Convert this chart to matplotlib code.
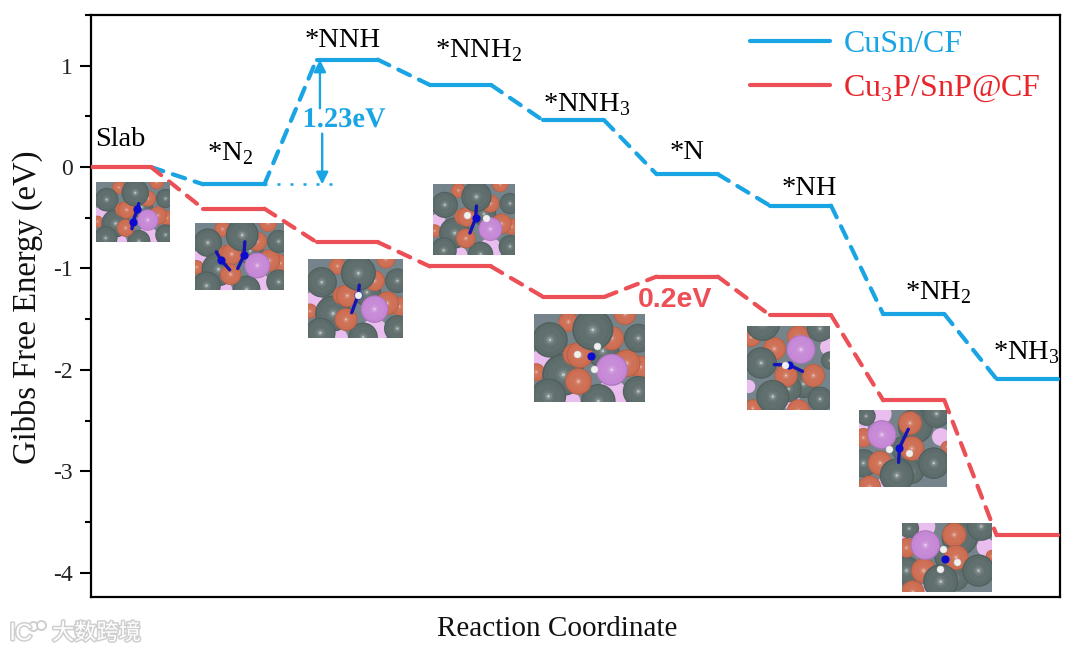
import numpy as np
import matplotlib
matplotlib.use('Agg')
import matplotlib.pyplot as plt
import matplotlib.patheffects as pe
from matplotlib.lines import Line2D
from matplotlib.patches import Circle, Rectangle
from matplotlib.ticker import MultipleLocator

plt.rcParams['font.family'] = ['Liberation Serif', 'DejaVu Sans']
plt.rcParams['mathtext.fontset'] = 'custom'
plt.rcParams['mathtext.rm'] = 'Liberation Serif'

W, H = 1080, 653

# energy levels (eV)
steps = ['Slab', '*N$_2$', '*NNH', '*NNH$_2$', '*NNH$_3$', '*N', '*NH', '*NH$_2$', '*NH$_3$']
cusn = [0, -0.17, 1.06, 0.81, 0.46, -0.07, -0.38, -1.45, -2.09]
cu3p = [0, -0.41, -0.74, -0.98, -1.28, -1.08, -1.46, -2.30, -3.63]
label_x = [0.0, 0.97, 1.96, 3.16, 4.11, 5.0, 6.08, 7.22, 7.99]
label_y = [0.27, 0.13, 1.25, 1.15, 0.62, 0.14, -0.21, -1.24, -1.83]

BLUE = '#19a4e4'
RED = '#ec5056'
LW = 3.0
half = 0.27

# atoms in the snapshots: x, y, radius as fractions of the snapshot width, top down
GREY, COPPER, PURPLE, PINK = '#5c6c6b', '#cc6d52', '#c587d6', '#e9bdee'
slab_a = [
    (PINK, .06, .52, .09), (PINK, .70, .92, .14), (PINK, .32, 1.0, .10),
    (COPPER, .82, .00, .10), (COPPER, .02, .66, .08), (COPPER, .31, .09, .09), (COPPER, .96, .60, .10),
    (GREY, .144, .294, .16), (GREY, .264, .69, .19), (GREY, .13, .935, .16), (GREY, .62, .42, .15),
    (COPPER, .70, .275, .11), (COPPER, .835, .56, .125), (COPPER, .36, .46, .10), (COPPER, .414, .464, .12),
    (GREY, .53, .18, .185), (GREY, .94, .275, .13), (GREY, .94, .88, .14), (GREY, .58, .99, .155),
    (COPPER, .40, .766, .12), (PURPLE, .70, .634, .145),
]
slab_b = [
    (PINK, .98, .25, .10), (PINK, .55, .92, .10), (PINK, .02, .72, .08),
    (COPPER, .05, .13, .12), (COPPER, .62, .13, .14), (COPPER, .33, .27, .14), (COPPER, .07, .98, .11),
    (GREY, .19, -.03, .21), (GREY, .88, .03, .16), (GREY, 1.0, .41, .11), (GREY, .68, .69, .17),
    (GREY, .5, .75, .16),
    (COPPER, .47, .59, .14), (COPPER, .80, .59, .14), (COPPER, .62, 1.01, .14),
    (GREY, .17, .44, .19), (GREY, .31, .84, .20), (GREY, .88, .87, .15), (PURPLE, .65, .28, .175),
]
slab_c = [
    (PINK, .93, .35, .10), (PINK, .25, .05, .12), (PINK, .03, .22, .07), (PINK, .28, .97, .08),
    (GREY, .64, .21, .20), (GREY, .88, .05, .16), (GREY, .05, .69, .16), (GREY, .08, .08, .11),
    (GREY, .60, .80, .14), (GREY, .5, .5, .14),
    (COPPER, .58, .17, .135), (COPPER, .60, .50, .14), (COPPER, .24, .69, .14),
    (COPPER, .12, 1.0, .13), (COPPER, .05, .36, .11), (COPPER, 1.0, .48, .07),
    (GREY, .85, .69, .18), (GREY, .43, .85, .195), (PURPLE, .26, .32, .165),
]

# snapshot boxes in picture pixels: left, top, right, bottom
boxes = [(96, 182, 170, 242), (195, 223, 284, 290), (308, 259, 403, 338), (433, 184, 515, 255),
         (534, 314, 645, 402), (747, 326, 830, 410), (859, 410, 947, 487), (902, 523, 992, 592)]
slabs = [slab_a, slab_a, slab_a, slab_a, slab_a, slab_b, slab_c, slab_c]
# N-N sticks and hydrogens on top of each slab, fractions of width and height
sticks = [
    [[(.577, .36), (.56, .45), (.50, .66), (.486, .78)]],
    [[(.56, .28), (.55, .48), (.48, .68)], [(.24, .43), (.29, .55), (.39, .70)]],
    [[(.54, .33), (.53, .45), (.46, .68)]],
    [[(.53, .31), (.52, .48), (.45, .69)]],
    [[(.51, .48), (.50, .50)]],
    [[(.33, .46), (.50, .46), (.67, .54)]],
    [[(.56, .25), (.46, .49), (.45, .68)]],
    [[(.48, .52), (.49, .52)]],
]
hydrogens = [
    [], [], [(.53, .46)],
    [(.42, .43), (.65, .48)],
    [(.39, .46), (.57, .36), (.54, .63)],
    [(.46, .46)],
    [(.34, .51), (.57, .56)],
    [(.46, .38), (.61, .56), (.42, .66)],
]


def lighter(color, k):
    c = np.array(matplotlib.colors.to_rgb(color))
    return tuple(c + (1 - c) * k)


def draw_sphere(ax, color, x, y, r):
    # concentric discs fake the shading of the rendered atoms
    if color == PINK:
        ax.add_patch(Circle((x, y), r, fc=color, ec='none'))
        return
    for f, k in zip([1, .92, .7, .35, .2, .08], [-.12, 0, .03, .08, .22, .6]):
        base = np.array(matplotlib.colors.to_rgb(color))
        fc = base * (1 + k) if k < 0 else lighter(color, k)
        ax.add_patch(Circle((x, y), r * f, fc=fc, ec='none'))


def draw_snapshot(fig, box, atoms, stick, hyd):
    l, t, r, b = box
    ax = fig.add_axes([l / W, 1 - b / H, (r - l) / W, (b - t) / H])
    asp = (b - t) / (r - l)
    ax.set_xlim(0, 1)
    ax.set_ylim(asp, 0)
    ax.axis('off')
    ax.add_patch(Rectangle((0, 0), 1, asp, fc='#74848a', ec='none'))
    for color, x, y, rad in atoms:
        draw_sphere(ax, color, x, y * asp, rad)
    for s in stick:
        xs = [p[0] for p in s]
        ys = [p[1] * asp for p in s]
        ax.plot(xs, ys, color='#1414b4', lw=2.4, solid_capstyle='round')
        ax.scatter(xs[1:-1] if len(xs) > 2 else xs[:1], ys[1:-1] if len(ys) > 2 else ys[:1],
                   s=24, color='#0b0bd0', zorder=5)
    for x, y in hyd:
        ax.scatter([x], [y * asp], s=26, color='#f0f0ee', edgecolor='#c8c8c8', linewidth=0.3, zorder=6)


def draw_profile(ax, levels, color, start=0):
    for i in range(start, len(levels)):
        ax.plot([i - half, i + half], [levels[i], levels[i]], color=color, lw=LW,
                solid_capstyle='round', zorder=3)
    for i in range(len(levels) - 1):
        ax.plot([i + half, i + 1 - half], [levels[i], levels[i + 1]], color=color, lw=LW,
                linestyle=(0, (3.1, 2.4)), dash_capstyle='round', zorder=3)


fig = plt.figure(figsize=(W / 100, H / 100), dpi=100)
ax = fig.add_axes([91 / W, 1 - 597 / H, (1060 - 91) / W, (597 - 15) / H])

draw_profile(ax, cusn, BLUE, start=1)
draw_profile(ax, cu3p, RED)

ax.set_xlim(-0.26, 8.29)
ax.set_ylim(-4.24, 1.5)
ax.set_xticks([])
ax.yaxis.set_major_locator(MultipleLocator(1))
ax.yaxis.set_minor_locator(MultipleLocator(0.5))
ax.tick_params(axis='y', which='major', length=8, width=1.5, labelsize=17, pad=5, labelcolor='#222222')
ax.tick_params(axis='y', which='minor', length=4.5, width=1.5)
ax.yaxis.set_major_formatter(lambda v, pos: f'{v:.0f}')
for s in ax.spines.values():
    s.set_linewidth(1.6)

fig.text(557 / W, 1 - 629 / H, 'Reaction Coordinate', fontsize=21, color='#111111', ha='center', va='center')
fig.text(27 / W, 1 - 307 / H, 'Gibbs Free Energy (eV)', fontsize=23.5, color='#111111', rotation=90,
         ha='center', va='center')

for name, x, y in zip(steps, label_x, label_y):
    ax.text(x, y, name, fontsize=20.5, ha='center', va='center', zorder=6)

# barrier annotations
ax.plot([1 + half, 1.88], [cusn[1], cusn[1]], color=BLUE, lw=1.8, linestyle=(0, (1.2, 4)), zorder=2)
ax.annotate('', xy=(1.76, cusn[2]), xytext=(1.76, 0.58), zorder=4,
            arrowprops=dict(arrowstyle='-|>', color=BLUE, lw=1.7, mutation_scale=18, shrinkA=0, shrinkB=0))
ax.annotate('', xy=(1.78, cusn[1]), xytext=(1.78, 0.33), zorder=4,
            arrowprops=dict(arrowstyle='-|>', color=BLUE, lw=1.7, mutation_scale=18, shrinkA=0, shrinkB=0))
ax.text(1.975, 0.46, '1.23eV', color=BLUE, fontsize=20.5, fontweight='bold', ha='center', va='center', zorder=6,
        path_effects=[pe.withStroke(linewidth=2, foreground='white')])
ax.text(4.89, -1.31, '0.2eV', color=RED, fontsize=20.5, fontweight='bold', family='Liberation Sans',
        ha='center', va='center', zorder=6)

h1, = ax.plot([], [], color=BLUE, lw=LW, solid_capstyle='round', label='CuSn/CF')
h2, = ax.plot([], [], color=RED, lw=LW, solid_capstyle='round', label='Cu$_3$P/SnP@CF')
ax.legend(handles=[h1, h2], frameon=False, fontsize=23, labelcolor=[BLUE, '#e8252b'],
          loc='upper left', bbox_to_anchor=(0.677, 0.98), handlelength=2.5, handletextpad=0.42,
          labelspacing=0.45, borderaxespad=0, borderpad=0.1)

for box, atoms, stick, hyd in zip(boxes, slabs, sticks, hydrogens):
    draw_snapshot(fig, box, atoms, stick, hyd)

# watermark
halo = [pe.withStroke(linewidth=2.2, foreground='#cfcfcf')]
fig.text(52 / W, 1 - 633 / H, '大数跨境', family=['Noto Sans CJK SC', 'DejaVu Sans'], fontsize=16,
         color='white', va='center', ha='left', path_effects=halo)
fig.text(10 / W, 1 - 634 / H, 'lC', family='Liberation Sans', fontsize=17, color='white', va='center',
         ha='left', path_effects=halo)
fig.add_artist(Line2D([33 / W, 41 / W], [1 - 626 / H, 1 - 625 / H], transform=fig.transFigure, linestyle='none',
                      marker='o', ms=6.5, mfc='white', mec='#cfcfcf', mew=1.4))

fig.savefig('out.png', dpi=100)
